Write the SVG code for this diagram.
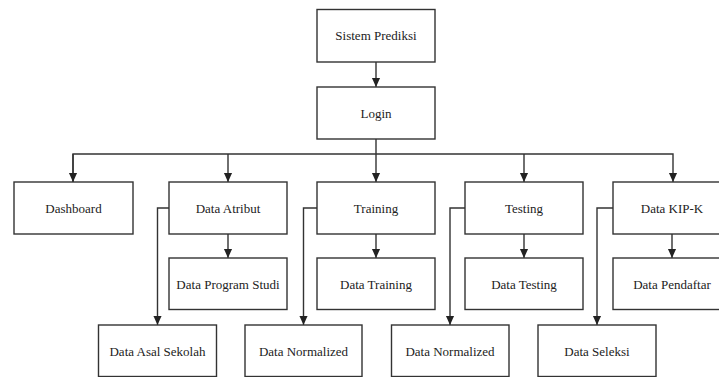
<svg xmlns="http://www.w3.org/2000/svg" width="719" height="377" viewBox="0 0 719 377">
<style>
.box{fill:#fff;stroke:#333;stroke-width:1.4}
.lbl{font-family:"Liberation Serif","Times New Roman",serif;font-size:13px;fill:#222;text-anchor:middle}
.ln{fill:none;stroke:#333;stroke-width:1.4}
</style>
<defs>
<marker id="a" markerWidth="9" markerHeight="10" refX="10" refY="4.5" orient="auto" markerUnits="userSpaceOnUse" viewBox="0 0 10 9">
<path d="M0,0 L10,4.5 L0,9 Z" fill="#222"/>
</marker>
</defs>
<g id="connectors">
<path class="ln" d="M376,62 V87" marker-end="url(#a)"/>
<path class="ln" d="M376,139 V182" marker-end="url(#a)"/>
<path class="ln" d="M73,182 V154 H673 V182" marker-end="url(#a)"/>
<path class="ln" d="M73,154 V182" marker-end="url(#a)"/>
<path class="ln" d="M228,154 V182" marker-end="url(#a)"/>
<path class="ln" d="M524,154 V182" marker-end="url(#a)"/>
<path class="ln" d="M228,234 V258" marker-end="url(#a)"/>
<path class="ln" d="M376,234 V258" marker-end="url(#a)"/>
<path class="ln" d="M524,234 V258" marker-end="url(#a)"/>
<path class="ln" d="M672,234 V258" marker-end="url(#a)"/>
<path class="ln" d="M169,208 H157.5 V325" marker-end="url(#a)"/>
<path class="ln" d="M317,208 H303.5 V325" marker-end="url(#a)"/>
<path class="ln" d="M465,208 H450 V325" marker-end="url(#a)"/>
<path class="ln" d="M613,208 H597 V325" marker-end="url(#a)"/>
</g>
<g id="sistem"><rect class="box" x="317" y="9.5" width="118" height="52.5"/><text class="lbl" x="376" y="40">Sistem Prediksi</text></g>
<g id="login"><rect class="box" x="317" y="87" width="118" height="52"/><text class="lbl" x="376" y="117.5">Login</text></g>
<g id="dashboard"><rect class="box" x="14" y="182" width="119" height="52"/><text class="lbl" x="73.5" y="212.5">Dashboard</text></g>
<g id="atribut"><rect class="box" x="169" y="182" width="118" height="52"/><text class="lbl" x="228" y="212.5">Data Atribut</text></g>
<g id="training"><rect class="box" x="317" y="182" width="118" height="52"/><text class="lbl" x="376" y="212.5">Training</text></g>
<g id="testing"><rect class="box" x="465" y="182" width="118" height="52"/><text class="lbl" x="524" y="212.5">Testing</text></g>
<g id="kipk"><rect class="box" x="613" y="182" width="118" height="52"/><text class="lbl" x="672" y="212.5">Data KIP-K</text></g>
<g id="prodi"><rect class="box" x="169" y="258" width="118" height="51.5"/><text class="lbl" x="228" y="288.5">Data Program Studi</text></g>
<g id="datatraining"><rect class="box" x="317" y="258" width="118" height="51.5"/><text class="lbl" x="376" y="288.5">Data Training</text></g>
<g id="datatesting"><rect class="box" x="465" y="258" width="118" height="51.5"/><text class="lbl" x="524" y="288.5">Data Testing</text></g>
<g id="pendaftar"><rect class="box" x="613" y="258" width="118" height="51.5"/><text class="lbl" x="672" y="288.5">Data Pendaftar</text></g>
<g id="sekolah"><rect class="box" x="98.5" y="325" width="118" height="51.5"/><text class="lbl" x="157.5" y="355.5">Data Asal Sekolah</text></g>
<g id="norm1"><rect class="box" x="245" y="325" width="117" height="51.5"/><text class="lbl" x="303.5" y="355.5">Data Normalized</text></g>
<g id="norm2"><rect class="box" x="391.5" y="325" width="117.5" height="51.5"/><text class="lbl" x="450" y="355.5">Data Normalized</text></g>
<g id="seleksi"><rect class="box" x="538" y="325" width="118" height="51.5"/><text class="lbl" x="597" y="355.5">Data Seleksi</text></g>
</svg>
